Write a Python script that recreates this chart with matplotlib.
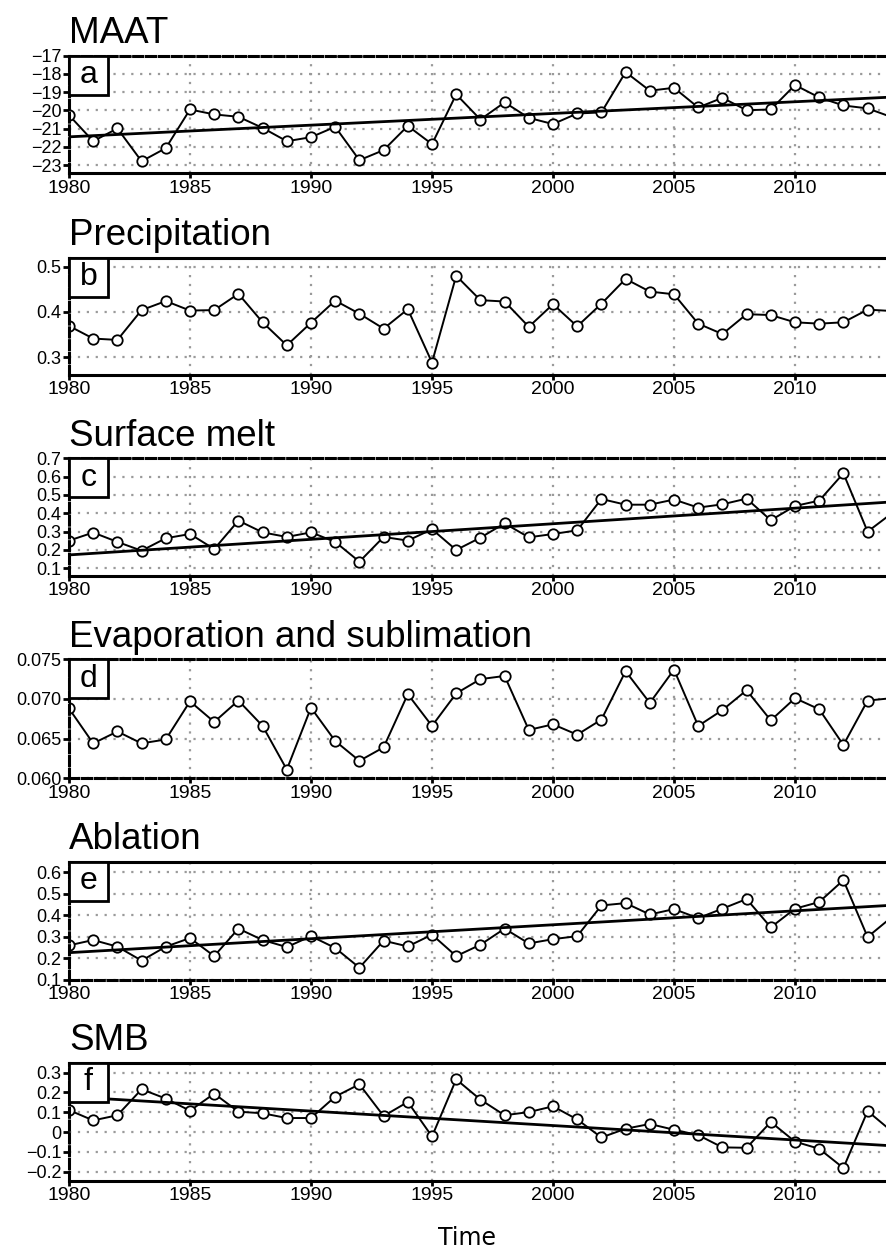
import numpy as np
import matplotlib.pyplot as plt
from matplotlib import transforms, font_manager
from matplotlib.patches import Rectangle

plt.rcParams['font.family'] = ['Liberation Sans', 'DejaVu Sans']

years = np.arange(1980, 2015)

maat = [-20.26, -21.69, -20.99, -22.79, -22.07, -19.95, -20.22, -20.35, -20.96, -21.69,
        -21.47, -20.90, -22.73, -22.18, -20.85, -21.85, -19.12, -20.50, -19.56, -20.41,
        -20.75, -20.17, -20.11, -17.90, -18.92, -18.76, -19.84, -19.31, -19.99, -19.95,
        -18.61, -19.29, -19.73, -19.89, -20.37]
precip = [0.369, 0.341, 0.338, 0.404, 0.424, 0.403, 0.404, 0.440, 0.377, 0.326,
          0.376, 0.425, 0.396, 0.363, 0.406, 0.288, 0.480, 0.426, 0.423, 0.367,
          0.417, 0.368, 0.418, 0.473, 0.445, 0.439, 0.374, 0.351, 0.395, 0.393,
          0.377, 0.374, 0.377, 0.405, 0.402]
melt = [0.251, 0.295, 0.244, 0.196, 0.264, 0.287, 0.205, 0.360, 0.296, 0.271,
        0.296, 0.244, 0.136, 0.271, 0.251, 0.313, 0.200, 0.267, 0.345, 0.269,
        0.287, 0.307, 0.478, 0.447, 0.447, 0.475, 0.431, 0.449, 0.480, 0.362,
        0.440, 0.469, 0.618, 0.300, 0.400]
evap = [0.0688, 0.0644, 0.0659, 0.0644, 0.0649, 0.0697, 0.0671, 0.0698, 0.0666, 0.0611,
        0.0689, 0.0647, 0.0622, 0.0639, 0.0706, 0.0666, 0.0707, 0.0725, 0.0729, 0.0661,
        0.0668, 0.0655, 0.0674, 0.0735, 0.0695, 0.0737, 0.0666, 0.0686, 0.0711, 0.0673,
        0.0701, 0.0687, 0.0642, 0.0698, 0.0701]
ablation = [0.260, 0.285, 0.254, 0.189, 0.254, 0.294, 0.210, 0.338, 0.285, 0.252,
            0.303, 0.248, 0.156, 0.282, 0.255, 0.310, 0.210, 0.263, 0.338, 0.269,
            0.289, 0.303, 0.446, 0.457, 0.404, 0.429, 0.387, 0.431, 0.476, 0.344,
            0.431, 0.462, 0.564, 0.299, 0.392]
smb = [0.111, 0.059, 0.085, 0.216, 0.169, 0.108, 0.194, 0.103, 0.095, 0.071,
       0.071, 0.179, 0.241, 0.081, 0.152, -0.022, 0.266, 0.164, 0.085, 0.101,
       0.130, 0.064, -0.027, 0.017, 0.041, 0.012, -0.015, -0.077, -0.079, 0.051,
       -0.048, -0.084, -0.181, 0.106, 0.004]

# linear trends, values at 1980 and 2014
maat_trend = [-21.45, -19.27]
melt_trend = [0.173, 0.462]
ablation_trend = [0.226, 0.447]
smb_trend = [0.179, -0.069]

titles = ['MAAT', 'Precipitation', 'Surface melt', 'Evaporation and sublimation',
          'Ablation', 'SMB']
letters = ['a', 'b', 'c', 'd', 'e', 'f']
series = [maat, precip, melt, evap, ablation, smb]
trends = [maat_trend, None, melt_trend, None, ablation_trend, smb_trend]
ylims = [(-23.45, -17), (0.261, 0.52), (0.058, 0.7), (0.060, 0.075), (0.1, 0.65),
         (-0.245, 0.35)]
yticks = [[-23, -22, -21, -20, -19, -18, -17],
          [0.3, 0.4, 0.5],
          [0.1, 0.2, 0.3, 0.4, 0.5, 0.6, 0.7],
          [0.060, 0.065, 0.070, 0.075],
          [0.1, 0.2, 0.3, 0.4, 0.5, 0.6],
          [-0.2, -0.1, 0.0, 0.1, 0.2, 0.3]]
ylabels = [['\u221223', '\u221222', '\u221221', '\u221220', '\u221219', '\u221218', '\u221217'],
           ['0.3', '0.4', '0.5'],
           ['0.1', '0.2', '0.3', '0.4', '0.5', '0.6', '0.7'],
           ['0.060', '0.065', '0.070', '0.075'],
           ['0.1', '0.2', '0.3', '0.4', '0.5', '0.6'],
           ['\u22120.2', '\u22120.1', '0', '0.1', '0.2', '0.3']]
xticks = list(range(1980, 2011, 5))

# year labels are set in a condensed face when one is available
try:
    font_manager.findfont('Liberation Sans Narrow', fallback_to_default=False)
    xfont, xsize = 'Liberation Sans Narrow', 15.5
except ValueError:
    xfont, xsize = 'Liberation Sans', 14

W, H = 886, 1248
left = 69
px_per_year = 24.2
tops = [55.7, 257.7, 458.3, 659.3, 861.7, 1062.7]
bottoms = [173.3, 374.7, 576.0, 778.3, 979.7, 1180.7]

fig = plt.figure(figsize=(W / 100, H / 100), dpi=100)

for i in range(6):
    top, bot = tops[i], bottoms[i]
    ax = fig.add_axes([left / W, 1 - bot / H, (W - left) / W, (bot - top) / H])
    ax.set_axisbelow(True)
    ax.grid(True, color='#9a9a9a', linestyle=(0, (1, 3)), lw=1.6)

    ax.plot(years, series[i], '-o', color='k', lw=1.4, ms=7.5, mfc='w', mec='k',
            mew=1.3, zorder=3)
    if trends[i] is not None:
        ax.plot([years[0], years[-1]], trends[i], '-', color='k', lw=2.0, zorder=4)

    ax.set_xticks(xticks)
    ax.set_xticklabels([str(x) for x in xticks], family=xfont, fontsize=xsize)
    ax.set_yticks(yticks[i])
    ax.set_yticklabels(ylabels[i], fontsize=13)
    ax.set_xlim(1980, 1980 + (W - left) / px_per_year)
    ax.set_ylim(*ylims[i])
    ax.tick_params(axis='y', direction='out', length=4, width=2, pad=1.5)
    ax.tick_params(axis='x', direction='out', length=3.5, width=2, pad=1)

    # border segments that sit on a grid line come out dashed
    ax.spines['right'].set_visible(False)
    lo, hi = ylims[i]
    for name in ['top', 'bottom', 'left']:
        sp = ax.spines[name]
        sp.set_linewidth(2.2)
        sp.set_zorder(5)
    ax.spines['left'].set_linestyle((0, (3, 1.2)))
    if np.isclose(hi, yticks[i][-1]):
        ax.spines['top'].set_linestyle((0, (3, 1.2)))
    if np.isclose(lo, yticks[i][0]):
        ax.spines['bottom'].set_linestyle((0, (3, 1.2)))

    # panel title above the frame
    tr = transforms.offset_copy(ax.transAxes, fig=fig, x=0, y=12.5, units='dots')
    ax.text(0, 1, titles[i], transform=tr, fontsize=26.5, ha='left', va='baseline')

    # panel letter box in upper-left corner
    bw = 39 / (W - left)
    bh = 39 / (bot - top)
    ax.add_patch(Rectangle((0, 1 - bh), bw, bh, transform=ax.transAxes, fc='w',
                           ec='k', lw=2, zorder=6, clip_on=False))
    ax.text(bw / 2, 1 - bh / 2, letters[i], transform=ax.transAxes, fontsize=23,
            ha='center', va='center', zorder=7)

fig.text(467 / W, 1 - 1245 / H, 'Time', ha='center', va='baseline', fontsize=17,
         family='DejaVu Sans')

fig.savefig('out.png', dpi=100)
